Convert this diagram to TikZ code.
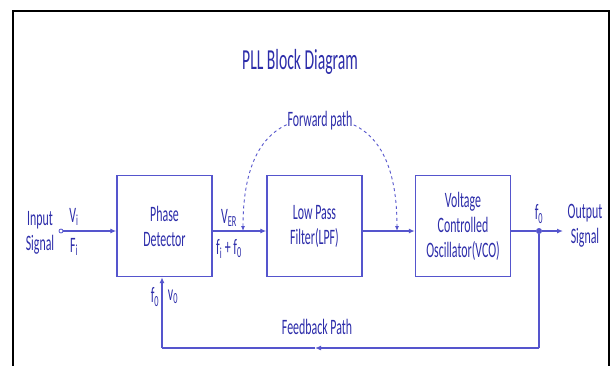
\documentclass[tikz,border=0pt]{standalone}
\usepackage{fontspec}
\setmainfont{Carlito}[FakeStretch=0.54]
\usetikzlibrary{arrows.meta}
\definecolor{pllline}{RGB}{85,85,205}
\definecolor{plltext}{RGB}{45,45,170}

\begin{document}
\begin{tikzpicture}[
    x=1pt, y=-1pt,
    % Styling
    base font/.style={font=\fontsize{22}{25}\selectfont, text=plltext},
    block box/.style={
        draw=pllline,
        line width=1.4pt,
        minimum width=95pt,
        minimum height=101pt,
        align=center,
        inner sep=0pt,
        base font
    },
    label text/.style={base font, align=center, inner sep=1pt},
    sig line/.style={draw=pllline, line width=1.3pt},
    arrow style/.style={sig line, -{Latex[length=6pt, width=5pt]}},
    path arc/.style={
        draw=pllline,
        line width=0.9pt,
        dashed,
        {Latex[length=5pt, width=4pt]}-{Latex[length=5pt, width=4pt]}
    }
]

% --- Page and frame ---
\clip (0,0) rectangle (612,365);
\fill[white] (0,0) rectangle (612,365);
\draw[line width=2.5pt] (13,11) rectangle (609,385);

% --- Title ---
\node[label text, font=\fontsize{29}{32}\selectfont] (title) at (300,62) {PLL Block Diagram};

% --- Blocks ---
\node[block box] (pd) at (164.5,226) {Phase\\Detector};
\node[block box] (lpf) at (314.5,226) {Low Pass\\Filter(LPF)};
\node[block box] (vco) at (463,226) {Voltage\\Controlled\\Oscillator(VCO)};

% --- Signal path ---
\node[draw=pllline, circle, line width=0.8pt, inner sep=0pt, minimum size=4pt] (in) at (61,231) {};
\node[fill=pllline, circle, inner sep=0pt, minimum size=6pt] (tap) at (539,231) {};
\coordinate (out) at (563,231);

\draw[arrow style] (in.east) -- ([yshift=-5pt]pd.west);
\draw[arrow style] ([yshift=-5pt]pd.east) -- ([yshift=-5pt]lpf.west);
\draw[arrow style] ([yshift=-5pt]lpf.east) -- ([yshift=-5pt]vco.west);
\draw[sig line] ([yshift=-5pt]vco.east) -- (tap);
\draw[arrow style] (tap) -- (out);

% --- Feedback loop ---
\coordinate (fb-r) at (539,348);
\coordinate (fb-m) at (315,348);
\coordinate (fb-l) at (162,348);
\draw[sig line] (tap) -- (fb-r);
\draw[arrow style] (fb-r) -- (fb-m);
\draw[sig line] (fb-m) -- (fb-l);
\draw[arrow style] (fb-l) -- (fb-l |- pd.south);

% --- Forward path arc ---
\coordinate (fwd-l) at (243,231);
\coordinate (fwd-r) at (397,231);
\draw[path arc] (fwd-l) .. controls (243,150) and (272,118) .. (320,118)
    .. controls (368,118) and (397,150) .. (fwd-r);
\node[label text, fill=white] (fwd) at (320,121) {Forward path};

% --- Labels ---
\node[label text] (in-lbl) at (40,233) {Input\\Signal};
\node[label text] (vi) at (74,217) {V\textsubscript{i}};
\node[label text] (fi) at (74,247) {F\textsubscript{i}};
\node[label text] (ver) at (229,218) {V\textsubscript{ER}};
\node[label text] (fsum) at (229,249) {f\textsubscript{i} + f\textsubscript{0}};
\node[label text] (fo) at (539,214) {f\textsubscript{0}};
\node[label text] (out-lbl) at (585,226) {Output\\Signal};
\node[label text] (fb-f) at (155,297) {f\textsubscript{0}};
\node[label text] (fb-v) at (173,297) {v\textsubscript{0}};
\node[label text] (fb-lbl) at (317,327) {Feedback Path};

\end{tikzpicture}
\end{document}
